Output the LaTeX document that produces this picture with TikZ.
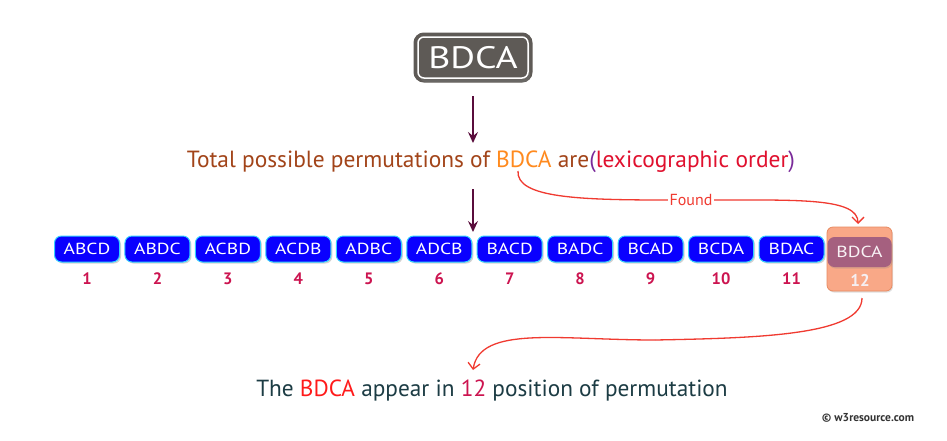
\documentclass[tikz,border=0pt]{standalone}
\usepackage{fontspec}
\setmainfont{PT Sans}
\newfontfamily\widefont[FakeStretch=1.22]{PT Sans}
\usetikzlibrary{arrows.meta,shadows}
\definecolor{topgray}{HTML}{5E5A56}
\definecolor{maroon}{HTML}{5A0D3C}
\definecolor{tbrown}{HTML}{A24419}
\definecolor{torange}{HTML}{FF8A1E}
\definecolor{tpurple}{HTML}{7A2A9A}
\definecolor{tred}{HTML}{E0102E}
\definecolor{boxblue}{HTML}{0A00FF}
\definecolor{boxcyan}{HTML}{33D0FF}
\definecolor{numcol}{HTML}{CC1450}
\definecolor{hlbg}{HTML}{F9A887}
\definecolor{hlbord}{HTML}{E88A60}
\definecolor{mauve}{HTML}{A5607F}
\definecolor{curvered}{HTML}{F03A30}
\definecolor{teal}{HTML}{1C3C44}
\definecolor{bred}{HTML}{FF1A1A}
\begin{document}
\begin{tikzpicture}[x=1pt,y=-1pt,
  topbox/.style={fill=topgray, draw=white, line width=1.5pt, rounded corners=6pt,
    preaction={draw=topgray, line width=9pt},
    drop shadow={opacity=0.35, shadow xshift=2pt, shadow yshift=-4pt},
    minimum width=110pt, minimum height=41pt, inner sep=0pt,
    text=white, font=\widefont\fontsize{31}{31}\selectfont},
  pbox/.style={fill=boxblue, draw=boxcyan, line width=1pt, rounded corners=7pt,
    drop shadow={opacity=0.35, shadow xshift=1.5pt, shadow yshift=-1.5pt},
    minimum width=65pt, minimum height=26pt, inner sep=0pt,
    text=white, font=\widefont\fontsize{16}{16}\selectfont},
  pnum/.style={text=numcol, font=\fontsize{16.5}{16.5}\selectfont\bfseries, inner sep=0pt},
  marrow/.style={draw=maroon, line width=2pt, -{Stealth[length=11pt,width=10pt,inset=4pt]}},
  rline/.style={draw=curvered, line width=1.3pt},
  rarrow/.style={rline, -{Straight Barb[length=6pt,width=12pt,line width=1.3pt]}},
]
\useasboundingbox (0,0) rectangle (947,440);
\fill[white] (0,0) rectangle (947,440);

% top box
\node[topbox] (top) at (473,57.5) {BDCA};

% title line
\node[inner sep=0pt, anchor=base, font=\fontsize{23.4}{23.4}\selectfont] (title) at (491,167)
  {{\color{tbrown}Total possible permutations of} {\color{torange}BDCA} {\color{tbrown}are}{\color{tpurple}(}{\color{tred}lexicographic order}{\color{tpurple})}};

\coordinate (a1s) at (473,96);
\coordinate (a1e) at (473,143);
\coordinate (a2s) at (473,189);
\coordinate (a2e) at (473,232);
\draw[marrow] (a1s) -- (a1e);
\draw[marrow] (a2s) -- (a2e);

% highlighted box 12
\node[fill=hlbg, draw=hlbord, line width=0.8pt, rounded corners=6pt,
  drop shadow={opacity=0.25, shadow xshift=1pt, shadow yshift=-1.5pt},
  minimum width=65pt, minimum height=64pt, inner sep=0pt] (hl) at (859.5,259) {};
\node[fill=mauve, rounded corners=7pt, minimum width=64pt, minimum height=30pt, inner sep=0pt,
  text=white!92!mauve, font=\widefont\fontsize{16}{16}\selectfont,
  drop shadow={opacity=0.25, shadow xshift=1pt, shadow yshift=-1.5pt}] (b12) at (859.5,252) {BDCA};
\node[inner sep=0pt, text=white!90!mauve, font=\fontsize{17}{17}\selectfont\bfseries] (n12) at (860,280) {12};

% boxes
\foreach \t [count=\i] in {ABCD,ABDC,ACBD,ACDB,ADBC,ADCB,BACD,BADC,BCAD,BCDA,BDAC}{
  \pgfmathsetmacro{\xx}{87+(\i-1)*70.45}
  \node[pbox] (b\i) at (\xx,249) {\t};
  \node[pnum] (n\i) at (\xx,279) {\i};
}

% Found curve
\coordinate (c1) at (518,171);
\node[inner sep=1.5pt, text=curvered, font=\fontsize{16}{16}\selectfont] (found) at (691,200) {Found};
\draw[rline] (c1) .. controls (516,198) and (580,200) .. (found.west);
\draw[rarrow] (found.east) .. controls (800,200) and (858,198) .. (858,224);

% bottom curve
\coordinate (c2) at (862,298);
\coordinate (c3) at (655,340);
\coordinate (c4) at (473,370);
\draw[rline] (c2) .. controls (862,335) and (760,338) .. (c3);
\draw[rarrow] (c3) .. controls (560,340) and (480,325) .. (c4);

% bottom text
\node[inner sep=0pt, anchor=base, font=\fontsize{23.3}{23.3}\selectfont] (bottom) at (492,396)
  {{\color{teal}The} {\color{bred}BDCA} {\color{teal}appear in} {\color{numcol}12} {\color{teal}position of permutation}};

% credit
\node[inner sep=0pt, text=black!80, font=\fontsize{11.5}{11.5}\selectfont\bfseries] (credit) at (868,418) {© w3resource.com};
\end{tikzpicture}
\end{document}
